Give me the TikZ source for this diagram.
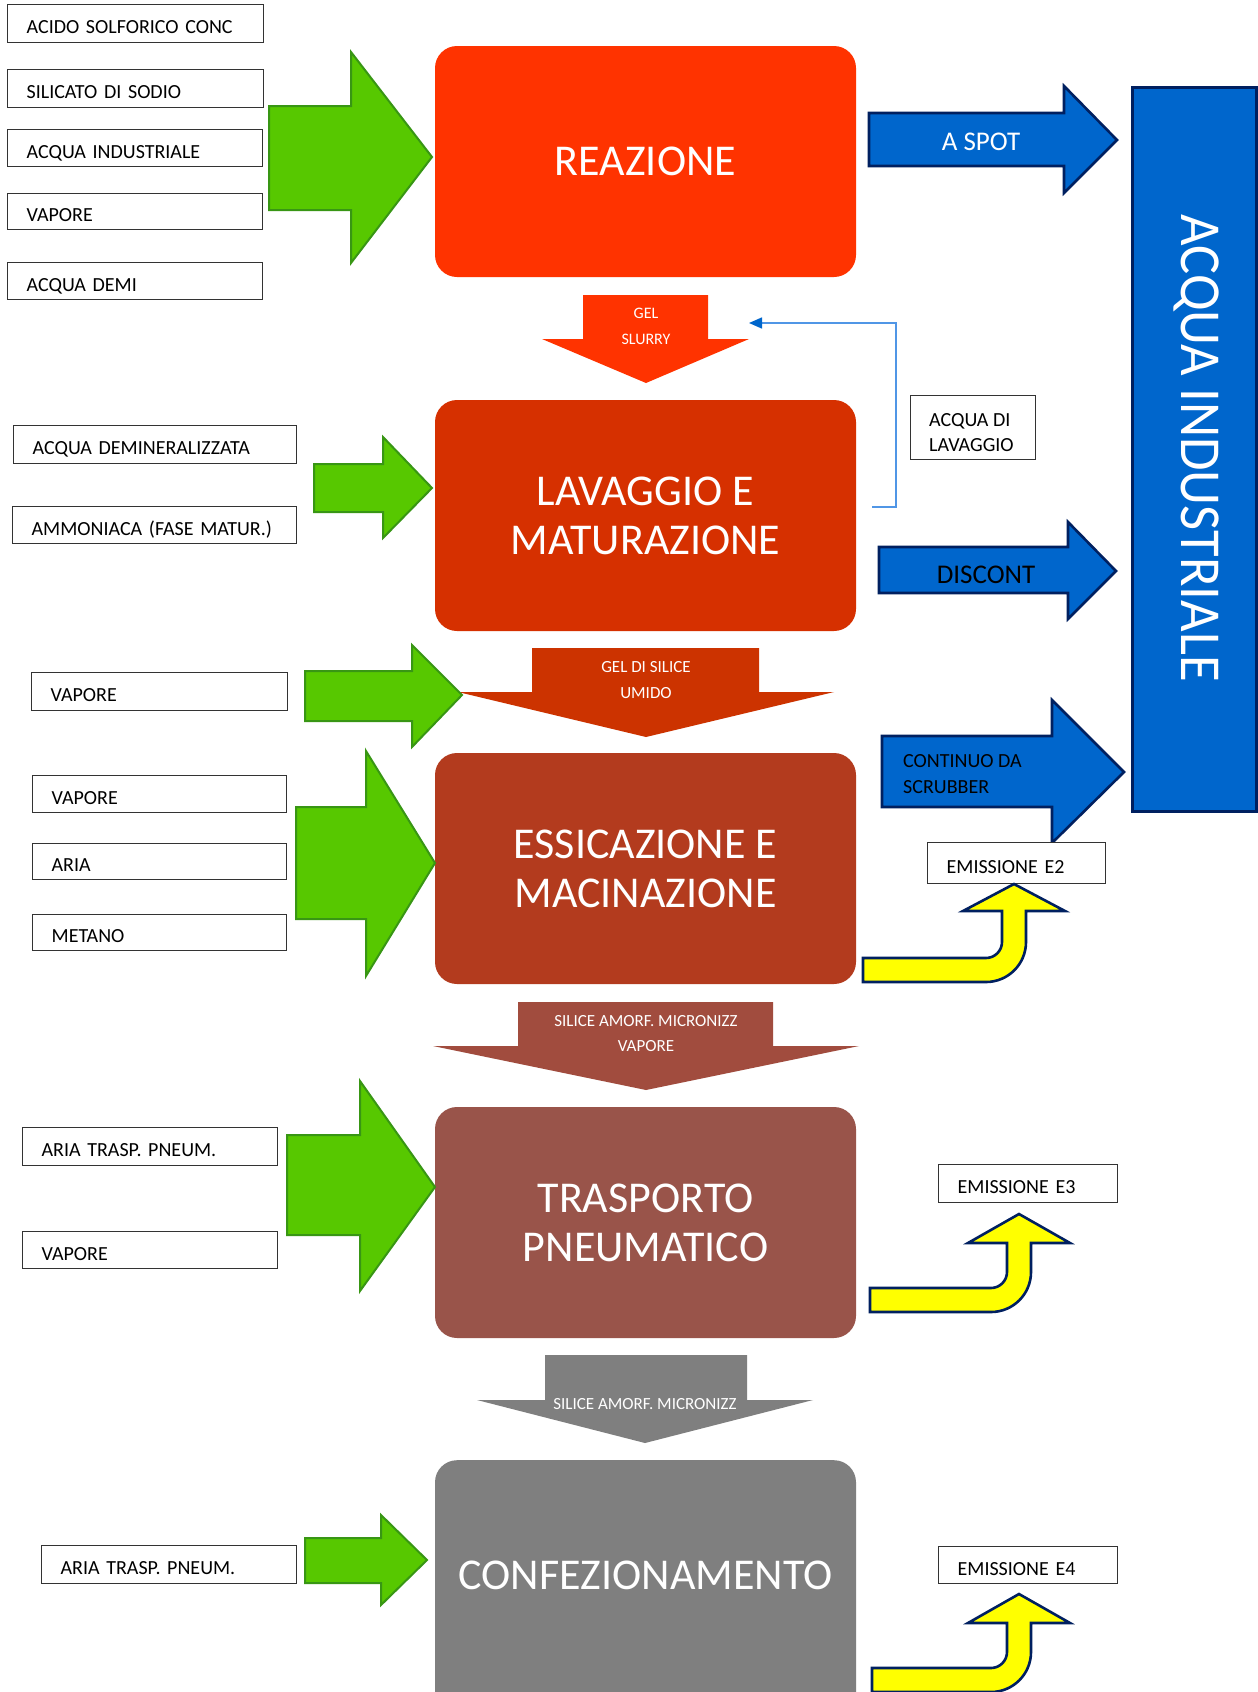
\documentclass[tikz,border=0pt]{standalone}
\usepackage{fontspec}
\setmainfont{Carlito}
\usetikzlibrary{arrows.meta}
\definecolor{creaz}{RGB}{255,51,0}
\definecolor{clav}{RGB}{214,48,0}
\definecolor{clavarr}{RGB}{204,51,0}
\definecolor{cess}{RGB}{179,59,30}
\definecolor{cessarr}{RGB}{161,76,62}
\definecolor{ctras}{RGB}{153,84,74}
\definecolor{cgrey}{RGB}{127,127,127}
\definecolor{cgreen}{RGB}{87,200,0}
\definecolor{cgreenb}{RGB}{56,150,20}
\definecolor{cblue}{RGB}{0,102,204}
\definecolor{cnavy}{RGB}{0,32,96}
\definecolor{cyel}{RGB}{255,255,0}
\definecolor{cfb}{RGB}{80,150,230}
\tikzset{
  inbox/.style={draw=black!80, line width=1.3pt, fill=white, anchor=north west,
    inner xsep=19pt, inner ysep=0pt, align=left, text height=20pt, text depth=0pt,
    font=\fontsize{20}{24}\selectfont},
  procbox/.style={rounded corners=22pt, minimum width=421pt, minimum height=231pt,
    align=center, text=white, inner sep=0pt, font=\fontsize{44}{49}\selectfont},
  greenarrow/.style={fill=cgreen, draw=cgreenb, line width=2pt, line join=miter},
  bluearrow/.style={fill=cblue, draw=cnavy, line width=2.6pt, line join=miter},
  yelarrow/.style={fill=cyel, draw=cnavy, line width=2.6pt, line join=miter},
  arrlbl/.style={text=white, align=center, inner sep=0pt},
  blacklbl/.style={text=black, align=left, inner sep=0pt, font=\fontsize{20}{25}\selectfont},
  fbline/.style={draw=cfb, line width=1.5pt, -{Triangle[length=13pt,width=11pt,fill=cblue,color=cblue]}}
}
\newcommand\inputbox[6]{%
  \pgfmathsetmacro\ibwid{#4-#2-38}\pgfmathsetmacro\ibhgt{#5-#3}%
  \node[inbox, text width=\ibwid pt, minimum height=\ibhgt pt] (#1) at (#2,#3) {#6};}
\begin{document}
\begin{tikzpicture}[x=1pt,y=-1pt]
\useasboundingbox (0,0) rectangle (1258,1692);
\clip (0,0) rectangle (1258,1692);
\fill[white] (0,0) rectangle (1258,1692);

% ---------- process boxes ----------
\node[procbox, fill=creaz] (reaz) at (645.5,161.5) {REAZIONE};
\node[procbox, fill=clav] (lav) at (645.5,515.5) {LAVAGGIO E\\MATURAZIONE};
\node[procbox, fill=cess] (ess) at (645.5,868.5) {ESSICAZIONE E\\MACINAZIONE};
\node[procbox, fill=ctras] (tras) at (645.5,1222.5) {TRASPORTO\\PNEUMATICO};
\node[procbox, fill=cgrey, minimum height=280pt, anchor=north] (conf) at (645.5,1460) {};
\node[text=white, inner sep=0pt, font=\fontsize{44}{49}\selectfont] (conftxt) at (645.5,1575.5) {CONFEZIONAMENTO};

% ---------- down arrows between stages ----------
\fill[creaz] (583,295) -- (708,295) -- (708,339) -- (749,339) -- (646,383) -- (542,339) -- (583,339) -- cycle;
\node[arrlbl, anchor=north, font=\fontsize{16}{26}\selectfont] (gelslurry) at (646,308) {GEL\\SLURRY};

\fill[clavarr] (532,648) -- (759,648) -- (759,692) -- (834,692) -- (646,737) -- (458,692) -- (532,692) -- cycle;
\node[arrlbl, anchor=north, font=\fontsize{17}{26}\selectfont] (geldisilice) at (646,661) {GEL DI SILICE\\UMIDO};

\fill[cessarr] (518,1002) -- (773,1002) -- (773,1046) -- (859,1046) -- (646,1090) -- (433,1046) -- (518,1046) -- cycle;
\node[arrlbl, anchor=north, font=\fontsize{17}{25}\selectfont] (silvap) at (646,1015) {SILICE AMORF. MICRONIZZ\\VAPORE};

\fill[cgrey] (545,1355) -- (747,1355) -- (747,1400) -- (813,1400) -- (645,1443) -- (477,1400) -- (545,1400) -- cycle;
\node[arrlbl, anchor=base, font=\fontsize{17}{25}\selectfont] (silmic) at (645,1409) {SILICE AMORF. MICRONIZZ};

% ---------- green input arrows ----------
\draw[greenarrow] (269,106) -- (351,106) -- (351,52) -- (432,157) -- (351,263) -- (351,210) -- (269,210) -- cycle;
\draw[greenarrow] (314,464) -- (383,464) -- (383,437) -- (432,488) -- (383,538) -- (383,512) -- (314,512) -- cycle;
\draw[greenarrow] (305,671) -- (412,671) -- (412,645) -- (462,695) -- (412,747) -- (412,721) -- (305,721) -- cycle;
\draw[greenarrow] (296,807) -- (366,807) -- (366,751) -- (435,863) -- (366,976) -- (366,919) -- (296,919) -- cycle;
\draw[greenarrow] (287,1135) -- (360,1135) -- (360,1081) -- (435,1187) -- (360,1291) -- (360,1235) -- (287,1235) -- cycle;
\draw[greenarrow] (305,1538) -- (381,1538) -- (381,1515) -- (427,1560) -- (381,1605) -- (381,1583) -- (305,1583) -- cycle;

% ---------- input boxes ----------
\inputbox{acido}{7}{4}{263}{42}{ACIDO SOLFORICO CONC}
\inputbox{silicato}{7}{69}{263}{107}{SILICATO DI SODIO}
\inputbox{acquaind}{7}{129}{262}{166}{ACQUA INDUSTRIALE}
\inputbox{vapore1}{7}{193}{262}{229}{VAPORE}
\inputbox{acquademi}{7}{262}{262}{299}{ACQUA DEMI}
\inputbox{acquademin}{13}{425}{296}{463}{ACQUA DEMINERALIZZATA}
\inputbox{ammoniaca}{12}{506}{296}{543}{AMMONIACA (FASE MATUR.)}
\inputbox{vapore2}{31}{672}{287}{710}{VAPORE}
\inputbox{vapore3}{32}{775}{286}{812}{VAPORE}
\inputbox{aria}{32}{843}{286}{879}{ARIA}
\inputbox{metano}{32}{914}{286}{950}{METANO}
\inputbox{ariatrasp1}{22}{1127}{277}{1165}{ARIA TRASP. PNEUM.}
\inputbox{vapore4}{22}{1231}{277}{1268}{VAPORE}
\inputbox{ariatrasp2}{41}{1545}{296}{1583}{ARIA TRASP. PNEUM.}

% ---------- right side: acqua industriale ----------
\draw[fill=cblue, draw=cnavy, line width=3pt] (1132,87) rectangle (1256.5,811);
\node[text=white, rotate=-90, inner sep=0pt, text height=37pt, text depth=0pt,
      font=\fontsize{58}{60}\selectfont] (acquaindv) at (1200,448) {\scalebox{0.94}[1]{ACQUA INDUSTRIALE}};

\draw[bluearrow] (869,113) -- (1064,113) -- (1064,86) -- (1117,140) -- (1064,193) -- (1064,166) -- (869,166) -- cycle;
\node[text=white, inner sep=0pt, font=\fontsize{27}{30}\selectfont] (aspot) at (981,141.5) {A SPOT};

\draw[bluearrow] (879,547) -- (1068,547) -- (1068,522) -- (1116,571) -- (1068,619) -- (1068,593) -- (879,593) -- cycle;
\node[text=black, inner sep=0pt, font=\fontsize{27}{30}\selectfont] (discont) at (986,575) {DISCONT};

\draw[bluearrow] (882,736) -- (1052,736) -- (1052,700) -- (1124,772) -- (1052,843) -- (1052,807) -- (882,807) -- cycle;
\node[blacklbl, anchor=north west, font=\fontsize{20}{26}\selectfont] (continuo) at (903,754) {CONTINUO DA\\SCRUBBER};

% ---------- feedback: acqua di lavaggio ----------
\node[draw=black!80, line width=1.3pt, fill=white, minimum width=125pt, minimum height=64pt,
      anchor=north west, inner sep=0pt] (lavbox) at (910,395) {};
\node[blacklbl, anchor=north west] (lavtxt) at (929,413) {ACQUA DI\\LAVAGGIO};
\coordinate (fbstart) at (872,507);
\coordinate (fbend) at (749,323);
\draw[fbline] (fbstart) -- (896,507) -- (896,323) -- (fbend);

% ---------- emissions ----------
\inputbox{emE2}{927}{842}{1105}{883}{EMISSIONE E2}
\inputbox{emE3}{938}{1164}{1117}{1202}{EMISSIONE E3}
\inputbox{emE4}{938}{1546}{1117}{1583}{EMISSIONE E4}

\draw[yelarrow] (863,958) -- (986,958) .. controls (994.8,958) and (1002,950.8) .. (1002,942)
  -- (1002,911) -- (963,911) -- (1014,884) -- (1065,911) -- (1026,911) -- (1026,942)
  .. controls (1026,964.1) and (1008.1,982) .. (986,982) -- (863,982) -- cycle;
\draw[yelarrow] (870,1288) -- (991,1288) .. controls (999.8,1288) and (1007,1280.8) .. (1007,1272)
  -- (1007,1243) -- (968,1243) -- (1019,1214) -- (1070,1243) -- (1031,1243) -- (1031,1272)
  .. controls (1031,1294.1) and (1013.1,1312) .. (991,1312) -- (870,1312) -- cycle;
\draw[yelarrow] (872,1668) -- (991,1668) .. controls (999.8,1668) and (1007,1660.8) .. (1007,1652)
  -- (1007,1623) -- (968,1623) -- (1019,1594) -- (1070,1623) -- (1031,1623) -- (1031,1652)
  .. controls (1031,1674.1) and (1013.1,1692) .. (991,1692) -- (872,1692) -- cycle;
\end{tikzpicture}
\end{document}
